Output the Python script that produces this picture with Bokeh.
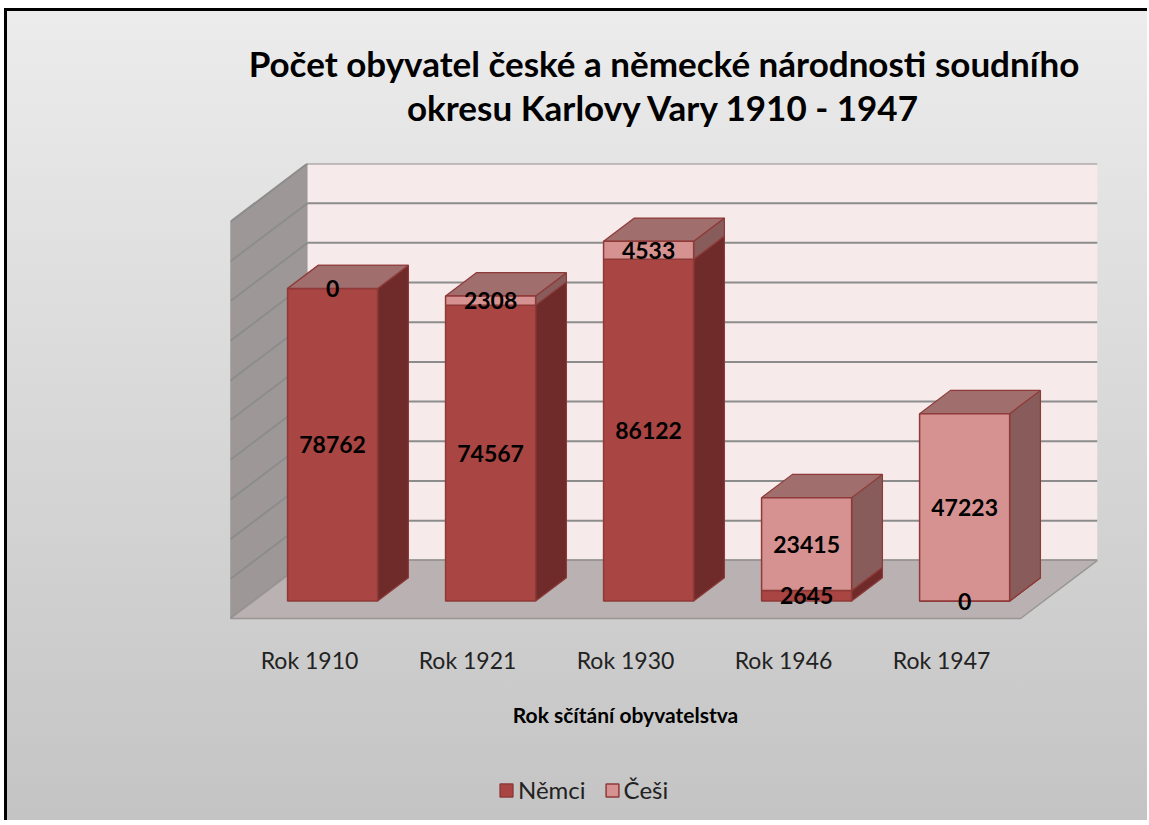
import numpy as np
from bokeh.plotting import figure
from bokeh.models import FixedTicker, Legend, LegendItem, Range1d, BasicTickFormatter, Title
from bokeh.core.properties import value
from bokeh.embed import file_html
from bokeh.resources import INLINE

# ---------------- data ----------------
categories = ["Rok 1910", "Rok 1921", "Rok 1930", "Rok 1946", "Rok 1947"]
nemci = [78762, 74567, 86122, 2645, 0]
cesi = [0, 2308, 4533, 23415, 47223]
y_ticks = [0, 10000, 20000, 30000, 40000, 50000, 60000, 70000, 80000, 90000, 100000]
series_names = ["Němci", "Češi"]
title_lines = ["Počet obyvatel české a německé národnosti soudního",
               "okresu Karlovy Vary 1910 - 1947"]

# ---------------- 3D-like oblique projection (data units) ----------------
Y_MAX = 100000
DEPTH_X = 0.487          # horizontal shift (category units) for full depth
DEPTH_Y = 0.1465 * Y_MAX  # vertical shift (value units) for full depth
D0, D1 = 0.30, 0.70      # bar depth span
BAR_W = 0.57
n = len(categories)

# plot area: the wall block occupies 455 px; the area below hosts axis + legend
WALL_PX = 455
FRAME_H = 655
y_top = Y_MAX + DEPTH_Y
y_bottom = -(FRAME_H - WALL_PX) / WALL_PX * y_top


def proj(x, y, d):
    return x + d * DEPTH_X, y + d * DEPTH_Y


def quad(pts):
    xs, ys = [], []
    for (x, y, d) in pts:
        px, py = proj(x, y, d)
        xs.append(px)
        ys.append(py)
    return xs, ys


FONT = "Lato"

p = figure(frame_width=867, frame_height=FRAME_H, output_backend="svg", toolbar_location=None,
           x_range=Range1d(0, n + DEPTH_X), y_range=Range1d(y_bottom, y_top),
           min_border_left=223, min_border_right=50, min_border_top=152, min_border_bottom=2,
           background_fill_alpha=0, border_fill_alpha=0, outline_line_color=None,
           styles={"background": "linear-gradient(#ececec, #c4c4c4)",
                   "border-left": "3px solid #000", "border-top": "3px solid #000",
                   "margin-left": "4px", "margin-top": "8px"})

p.xgrid.visible = False
p.ygrid.visible = False

# ---------------- walls / floor ----------------
sx, sy = quad([(0, 0, 0), (0, Y_MAX, 0), (0, Y_MAX, 1), (0, 0, 1)])
p.patch(sx, sy, fill_color="#9d9897", line_color="#8a8584", line_width=1)
bx, by = quad([(0, 0, 1), (n, 0, 1), (n, Y_MAX, 1), (0, Y_MAX, 1)])
p.patch(bx, by, fill_color="#f6eaea", line_color=None)

gx, gy = [], []
for v in y_ticks:
    xs1, ys1 = quad([(0, v, 1), (n, v, 1)])
    gx.append(xs1); gy.append(ys1)
    xs2, ys2 = quad([(0, v, 0), (0, v, 1)])
    gx.append(xs2); gy.append(ys2)
p.multi_line(gx, gy, line_color="#8c8c8c", line_width=2)

fx, fy = quad([(0, 0, 0), (n, 0, 0), (n, 0, 1), (0, 0, 1)])
p.patch(fx, fy, fill_color="#bab2b2", line_color="#9a9595", line_width=1.5)

# ---------------- bars ----------------
colors = {
    "Němci": dict(front="#a94542", top="#9c4c4a", side="#6e2b2a"),
    "Češi": dict(front="#d59290", top="#a06e6c", side="#875c5a"),
}
edge = "#8e3a38"

front_renderers = {}
bottoms = [0] * n
label_x, label_y, label_t = [], [], []
for name, vals in zip(series_names, [nemci, cesi]):
    F = ([], []); T = ([], []); S = ([], [])
    for i in range(n):
        c = i + 0.5
        x0, x1 = c - BAR_W / 2, c + BAR_W / 2
        b = bottoms[i]
        t = b + vals[i]
        xs, ys = quad([(x1, b, D0), (x1, b, D1), (x1, t, D1), (x1, t, D0)])
        S[0].append(xs); S[1].append(ys)
        xs, ys = quad([(x0, t, D0), (x1, t, D0), (x1, t, D1), (x0, t, D1)])
        T[0].append(xs); T[1].append(ys)
        xs, ys = quad([(x0, b, D0), (x1, b, D0), (x1, t, D0), (x0, t, D0)])
        F[0].append(xs); F[1].append(ys)
        lx, ly = proj(c, (b + t) / 2, D0)
        label_x.append(lx); label_y.append(ly); label_t.append(str(vals[i]))
        bottoms[i] = t
    col = colors[name]
    p.patches(S[0], S[1], fill_color=col["side"], line_color=edge, line_width=1.2)
    p.patches(T[0], T[1], fill_color=col["top"], line_color=edge, line_width=1.2)
    front_renderers[name] = p.patches(F[0], F[1], fill_color=col["front"],
                                      line_color=edge, line_width=1.5)

p.text(label_x, label_y, text=label_t, text_align="center", text_baseline="middle",
       text_font=value(FONT), text_font_style="bold", text_font_size="23px",
       text_color="#000000")

# ---------------- axes ----------------
yax = p.yaxis[0]
yax.fixed_location = 0
yax.bounds = (0, Y_MAX)
yax.ticker = FixedTicker(ticks=y_ticks)
yax.formatter = BasicTickFormatter(use_scientific=False)
yax.axis_line_color = None
yax.major_tick_line_color = None
yax.minor_tick_line_color = None
yax.major_label_standoff = 20
yax.major_label_text_font = FONT
yax.major_label_text_font_size = "22px"
yax.major_label_text_color = "#222222"
yax.axis_label = "Počet obyvatel"
yax.axis_label_text_font = FONT
yax.axis_label_text_font_style = "bold"
yax.axis_label_text_font_size = "21px"
yax.axis_label_text_color = "#000000"
yax.axis_label_standoff = 24

xax = p.xaxis[0]
xax.fixed_location = 0
xax.bounds = (0, n)
xax.ticker = FixedTicker(ticks=[i + 0.5 for i in range(n)])
xax.major_label_overrides = {i + 0.5: categories[i] for i in range(n)}
xax.axis_line_color = None
xax.major_tick_line_color = None
xax.minor_tick_line_color = None
xax.major_label_standoff = 21
xax.major_label_text_font = FONT
xax.major_label_text_font_size = "23px"
xax.major_label_text_color = "#222222"
xax.axis_label = "Rok sčítání obyvatelstva"
xax.axis_label_text_font = FONT
xax.axis_label_text_font_style = "bold"
xax.axis_label_text_font_size = "21px"
xax.axis_label_text_color = "#000000"
xax.axis_label_standoff = 25

# ---------------- title (two centred lines) ----------------
p.title.text = title_lines[0]
p.title.align = "center"
p.title.text_font = FONT
p.title.text_font_size = "35px"
p.title.text_font_style = "bold"
p.title.text_color = "#000000"
p.title.standoff = 0
# spacer between the title block and the plot area (added first = nearest the frame)
p.add_layout(Title(text=" ", text_font_size="2px", standoff=32), "above")
p.add_layout(Title(text=title_lines[1], align="center",
                   text_font=FONT, text_font_size="35px", text_font_style="bold",
                   text_color="#000000", standoff=0), "above")

# ---------------- legend ----------------
legend = Legend(items=[LegendItem(label=nm, renderers=[front_renderers[nm]]) for nm in series_names],
                orientation="horizontal", location=(268, 14),
                background_fill_alpha=0, border_line_color=None,
                label_text_font=FONT, label_text_font_size="24px", label_text_color="#222222",
                glyph_width=16, glyph_height=16, spacing=18, margin=0, padding=0,
                label_standoff=4)
p.add_layout(legend)

open("out.html", "w").write(file_html(p, INLINE))
